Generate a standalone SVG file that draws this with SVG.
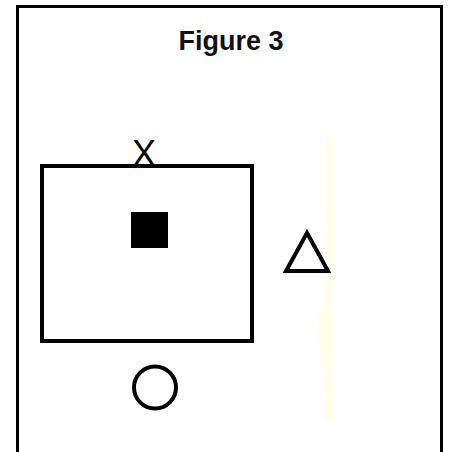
<svg xmlns="http://www.w3.org/2000/svg" width="449" height="452" viewBox="0 0 449 452">
  <style>
    .ln { fill: none; stroke: #000; }
    .title { font-family: "Liberation Sans", Arial, sans-serif; font-weight: bold; font-size: 27px; fill: #111; }
    .lbl { font-family: "Liberation Sans", Arial, sans-serif; font-size: 36px; fill: #000; }
  </style>
  <rect width="449" height="452" fill="#fff"/>
  <g id="frame">
    <path class="ln" stroke-width="3" d="M17.5,452 V6.5 H441.5 V452"/>
  </g>
  <g id="title">
    <text class="title" x="231" y="50" text-anchor="middle">Figure 3</text>
  </g>
  <g id="strip">
    <path d="M325,135 L333,135 L333,420 L325,420 L324,380 L320,350 L318,320 L323,300 L326,275 L327,240 L326,200 Z" fill="#fffeea"/>
  </g>
  <g id="box">
    <rect class="ln" stroke-width="4" x="42" y="166" width="210" height="175"/>
  </g>
  <g id="x-label">
    <text class="lbl" x="144" y="166" text-anchor="middle">X</text>
  </g>
  <g id="square">
    <rect x="131" y="212" width="37" height="36" fill="#000"/>
  </g>
  <g id="triangle">
    <polygon class="ln" stroke-width="4" stroke-linejoin="miter" points="307,233 286,271 328,271"/>
  </g>
  <g id="circle">
    <circle class="ln" stroke-width="4" cx="155" cy="387.5" r="21"/>
  </g>
  <g id="connectors"/>
</svg>
